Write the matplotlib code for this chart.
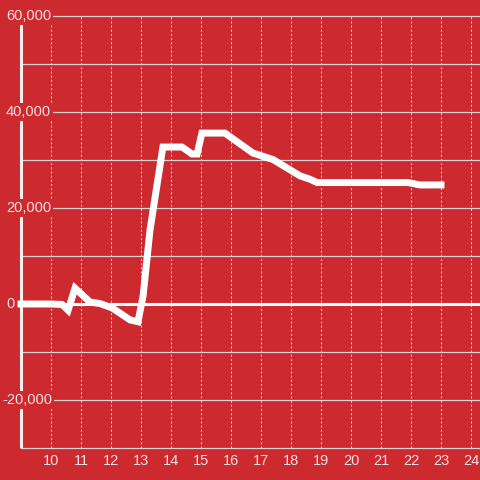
import matplotlib.pyplot as plt

hours = [9.0, 10.0, 10.37, 10.57, 10.8, 11.3, 11.63, 12.03, 12.3, 12.63, 12.9, 13.07, 13.3,
         13.73, 14.37, 14.7, 14.87, 15.03, 15.8, 16.73, 17.4, 18.3, 18.63, 18.87,
         21.9, 22.3, 23.0]
values = [0, 0, -100, -1300, 3300, 400, 100, -800, -1900, -3300, -3700, 1700, 15400,
          32700, 32700, 31250, 31250, 35600, 35600, 31450, 30100, 26700, 26000, 25300,
          25300, 24800, 24800]

x_ticks = list(range(10, 25))
y_grid = list(range(-30000, 60001, 10000))
y_labels = [60000, 40000, 20000, 0, -20000]

bg = '#cd2a2f'
grid_col = '#d9d3d3'
text_col = '#f5e1e1'

plt.rcParams['font.family'] = ['Liberation Sans', 'DejaVu Sans']

fig = plt.figure(figsize=(4.8, 4.8), dpi=100, facecolor=bg)
ax = fig.add_axes([0, 0, 1, 1], facecolor=bg)
# 30 px per hour, 96 px per 20,000
ax.set_xlim(9 - 21 / 30, 9 + 459 / 30)
ax.set_ylim(-36666.67, 63333.33)
ax.axis('off')

ax.hlines([v for v in y_grid if v != 0], 9, 24.3, color=grid_col, lw=0.9, zorder=1)
ax.vlines(x_ticks, -30000, 60000, color=grid_col, lw=0.75,
          linestyles=(0, (2, 2)), zorder=1)
ax.hlines(0, 9, 24.3, color='white', lw=2.2, zorder=2)
ax.vlines(9, -30000, 60000, color='#f4f0f0', lw=2.2, zorder=2)

ax.plot(hours, values, color='white', lw=5, solid_capstyle='projecting',
        solid_joinstyle='miter', zorder=3)

for v in y_labels:
    x0 = 8.5 if v >= 0 else 8.37
    ax.text(x0, v, f'{v:,}', color=text_col, fontsize=10.5, ha='left', va='center',
            zorder=5, bbox=dict(boxstyle='square,pad=0.12', fc=bg, ec='none'))

for h in x_ticks:
    ax.text(h, -32700, str(h), color=text_col, fontsize=10.5, ha='center',
            va='center', zorder=5)

fig.savefig('out.png', dpi=100, facecolor=bg)
